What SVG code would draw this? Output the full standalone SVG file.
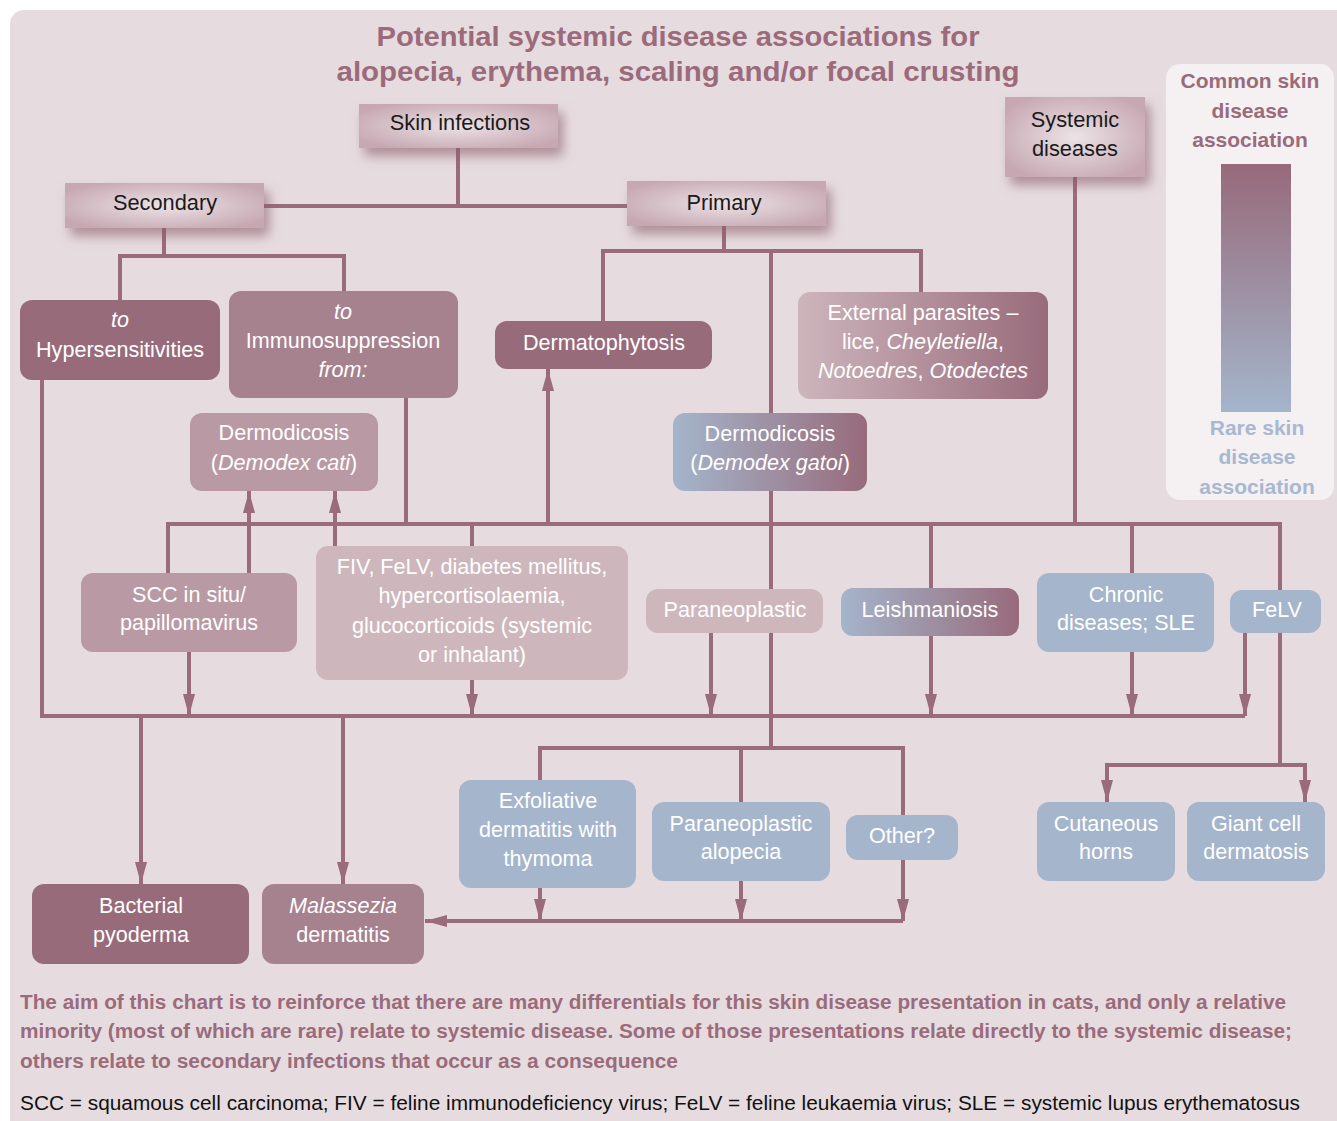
<svg xmlns="http://www.w3.org/2000/svg" width="1337" height="1121" viewBox="0 0 1337 1121">
<defs>
<style>
.bg{fill:#e6dcdf}
.c{fill:none;stroke:#9a6b7b;stroke-width:4}
.a{marker-end:url(#ah)}
.n1{fill:#986b7b}
.n2{fill:#a6818e}
.n3{fill:#b99aa4}
.n4{fill:#cdb7bd}
.nb{fill:#a5b5cb}
.hd{fill:url(#hg);filter:url(#sh)}
.t{font-family:"Liberation Sans",Arial,sans-serif;font-size:21.6px;fill:#fff;text-anchor:middle}
.th{font-family:"Liberation Sans",Arial,sans-serif;font-size:21.8px;fill:#1a1a1a;text-anchor:middle}
.i{font-style:italic}
.title{font-family:"Liberation Sans",Arial,sans-serif;font-size:28px;font-weight:bold;fill:#9b6b7c;text-anchor:middle}
.lg{font-family:"Liberation Sans",Arial,sans-serif;font-size:21px;font-weight:bold;text-anchor:middle}
.note{font-family:"Liberation Sans",Arial,sans-serif;font-size:19.5px;font-weight:bold;fill:#9b6b7c}
.foot{font-family:"Liberation Sans",Arial,sans-serif;font-size:19.5px;fill:#111}
</style>
<radialGradient id="hg" cx="0.5" cy="0.5" r="0.6">
<stop offset="0" stop-color="#ece3e6"/>
<stop offset="1" stop-color="#c6a7b2"/>
</radialGradient>
<linearGradient id="gExt" x1="0" y1="0" x2="1" y2="0">
<stop offset="0" stop-color="#cdb5bc"/>
<stop offset="1" stop-color="#986b7b"/>
</linearGradient>
<linearGradient id="gBM" x1="0" y1="0" x2="1" y2="0">
<stop offset="0" stop-color="#a4b5cb"/>
<stop offset="1" stop-color="#986b7b"/>
</linearGradient>
<linearGradient id="gLeg" x1="0" y1="0" x2="0" y2="1">
<stop offset="0" stop-color="#976a7a"/>
<stop offset="1" stop-color="#a4b5cb"/>
</linearGradient>
<filter id="sh" x="-20%" y="-30%" width="150%" height="180%">
<feDropShadow dx="5" dy="8" stdDeviation="6" flood-color="#8a5a6a" flood-opacity="0.6"/>
</filter>
<marker id="ah" viewBox="0 0 22 12" refX="22" refY="6" markerWidth="22" markerHeight="12" markerUnits="userSpaceOnUse" orient="auto">
<path d="M0,0 L22,6 L0,12 z" fill="#9a6b7b"/>
</marker>
</defs>

<rect x="0" y="0" width="1337" height="1121" fill="#ffffff"/>
<rect class="bg" x="10" y="10" width="1345" height="1125" rx="14"/>

<g id="title">
<text class="title" x="678" y="46" textLength="603" lengthAdjust="spacingAndGlyphs">Potential systemic disease associations for</text>
<text class="title" x="678" y="81" textLength="683" lengthAdjust="spacingAndGlyphs">alopecia, erythema, scaling and/or focal crusting</text>
</g>

<g id="legend">
<rect x="1166" y="64" width="168" height="436" rx="14" fill="#f5f0f2"/>
<text class="lg" x="1250" y="88" fill="#9a6b7b">Common skin</text>
<text class="lg" x="1250" y="118" fill="#9a6b7b">disease</text>
<text class="lg" x="1250" y="147" fill="#9a6b7b">association</text>
<rect x="1221" y="164" width="70" height="248" fill="url(#gLeg)"/>
<text class="lg" x="1257" y="435" fill="#a7b8d0">Rare skin</text>
<text class="lg" x="1257" y="464" fill="#a7b8d0">disease</text>
<text class="lg" x="1257" y="494" fill="#a7b8d0">association</text>
</g>

<g id="connectors">
<path class="c" d="M458,148 V206 M264,206 H627"/>
<path class="c" d="M164,228 V256 M120,300 V256 H344 V291"/>
<path class="c" d="M724,226 V251 M603,322 V251 H921 V292 M771,251 V413"/>
<path class="c" d="M1075,177 V524"/>
<path class="c" d="M168,573 V524 H1280 V765"/>
<path class="c" d="M406,398 V524 M472,524 V546 M771,491 V748 M931,524 V588 M1132,524 V573"/>
<path class="c a" d="M249,573 V491"/>
<path class="c a" d="M335,546 V491"/>
<path class="c a" d="M548,524 V369"/>
<path class="c" d="M42,380 V716 H1245"/>
<path class="c a" d="M189,652 V716"/>
<path class="c a" d="M472,680 V716"/>
<path class="c a" d="M711,633 V716"/>
<path class="c a" d="M931,636 V716"/>
<path class="c a" d="M1132,652 V716"/>
<path class="c a" d="M1245,633 V716"/>
<path class="c a" d="M141,716 V884"/>
<path class="c a" d="M343,716 V884"/>
<path class="c" d="M540,780 V748 H903 V815 M741,748 V802"/>
<path class="c a" d="M540,888 V921"/>
<path class="c a" d="M741,881 V921"/>
<path class="c a" d="M903,860 V921"/>
<path class="c a" d="M903,921 H425"/>
<path class="c a" d="M1280,765 H1107 V802"/>
<path class="c a" d="M1280,765 H1305 V802"/>
</g>

<g id="skin-infections">
<rect class="hd" x="359" y="104" width="199" height="44"/>
<text class="th" x="460" y="130">Skin infections</text>
</g>
<g id="secondary">
<rect class="hd" x="65" y="183" width="199" height="45"/>
<text class="th" x="165" y="210">Secondary</text>
</g>
<g id="primary">
<rect class="hd" x="627" y="181" width="199" height="45"/>
<text class="th" x="724" y="210">Primary</text>
</g>
<g id="systemic-diseases">
<rect class="hd" x="1005" y="97" width="140" height="80"/>
<text class="th" x="1075" y="127">Systemic</text>
<text class="th" x="1075" y="156">diseases</text>
</g>

<g id="hypersensitivities">
<rect class="n1" x="20" y="300" width="200" height="80" rx="12"/>
<text class="t i" x="120" y="327">to</text>
<text class="t" x="120" y="357">Hypersensitivities</text>
</g>
<g id="immunosuppression">
<rect class="n2" x="229" y="291" width="229" height="107" rx="12"/>
<text class="t i" x="343" y="319">to</text>
<text class="t" x="343" y="348">Immunosuppression</text>
<text class="t i" x="343" y="377">from:</text>
</g>
<g id="dermodicosis-cati">
<rect class="n3" x="190" y="413" width="188" height="78" rx="12"/>
<text class="t" x="284" y="440">Dermodicosis</text>
<text class="t" x="284" y="470">(<tspan class="i">Demodex cati</tspan>)</text>
</g>
<g id="dermatophytosis">
<rect class="n1" x="495" y="321" width="217" height="48" rx="12"/>
<text class="t" x="604" y="350">Dermatophytosis</text>
</g>
<g id="external-parasites">
<rect x="798" y="292" width="250" height="107" rx="12" fill="url(#gExt)"/>
<text class="t" x="923" y="320">External parasites –</text>
<text class="t" x="923" y="349">lice, <tspan class="i">Cheyletiella</tspan>,</text>
<text class="t" x="923" y="378"><tspan class="i">Notoedres</tspan>, <tspan class="i">Otodectes</tspan></text>
</g>
<g id="dermodicosis-gatoi">
<rect x="673" y="413" width="194" height="78" rx="12" fill="url(#gBM)"/>
<text class="t" x="770" y="441">Dermodicosis</text>
<text class="t" x="770" y="470">(<tspan class="i">Demodex gatoi</tspan>)</text>
</g>
<g id="scc">
<rect class="n3" x="81" y="573" width="216" height="79" rx="12"/>
<text class="t" x="189" y="602">SCC in situ/</text>
<text class="t" x="189" y="630">papillomavirus</text>
</g>
<g id="fiv">
<rect class="n4" x="316" y="546" width="312" height="134" rx="12"/>
<text class="t" x="472" y="574">FIV, FeLV, diabetes mellitus,</text>
<text class="t" x="472" y="603">hypercortisolaemia,</text>
<text class="t" x="472" y="633">glucocorticoids (systemic</text>
<text class="t" x="472" y="662">or inhalant)</text>
</g>
<g id="paraneoplastic">
<rect class="n4" x="646" y="589" width="177" height="44" rx="12"/>
<text class="t" x="735" y="617">Paraneoplastic</text>
</g>
<g id="leishmaniosis">
<rect x="841" y="588" width="178" height="48" rx="12" fill="url(#gBM)"/>
<text class="t" x="930" y="617">Leishmaniosis</text>
</g>
<g id="chronic">
<rect class="nb" x="1037" y="573" width="177" height="79" rx="12"/>
<text class="t" x="1126" y="602">Chronic</text>
<text class="t" x="1126" y="630">diseases; SLE</text>
</g>
<g id="felv">
<rect class="nb" x="1230" y="590" width="91" height="43" rx="12"/>
<text class="t" x="1277" y="617">FeLV</text>
</g>
<g id="exfoliative">
<rect class="nb" x="459" y="780" width="177" height="108" rx="12"/>
<text class="t" x="548" y="808">Exfoliative</text>
<text class="t" x="548" y="837">dermatitis with</text>
<text class="t" x="548" y="866">thymoma</text>
</g>
<g id="paraneoplastic-alopecia">
<rect class="nb" x="652" y="802" width="178" height="79" rx="12"/>
<text class="t" x="741" y="831">Paraneoplastic</text>
<text class="t" x="741" y="859">alopecia</text>
</g>
<g id="other">
<rect class="nb" x="846" y="815" width="112" height="45" rx="12"/>
<text class="t" x="902" y="843">Other?</text>
</g>
<g id="cutaneous-horns">
<rect class="nb" x="1037" y="802" width="138" height="79" rx="12"/>
<text class="t" x="1106" y="831">Cutaneous</text>
<text class="t" x="1106" y="859">horns</text>
</g>
<g id="giant-cell">
<rect class="nb" x="1187" y="802" width="138" height="79" rx="12"/>
<text class="t" x="1256" y="831">Giant cell</text>
<text class="t" x="1256" y="859">dermatosis</text>
</g>
<g id="bacterial-pyoderma">
<rect class="n1" x="32" y="884" width="217" height="80" rx="12"/>
<text class="t" x="141" y="913">Bacterial</text>
<text class="t" x="141" y="942">pyoderma</text>
</g>
<g id="malassezia">
<rect class="n2" x="262" y="884" width="162" height="80" rx="12"/>
<text class="t i" x="343" y="913">Malassezia</text>
<text class="t" x="343" y="942">dermatitis</text>
</g>

<g id="notes">
<text class="note" x="20" y="1009" textLength="1266" lengthAdjust="spacingAndGlyphs">The aim of this chart is to reinforce that there are many differentials for this skin disease presentation in cats, and only a relative</text>
<text class="note" x="20" y="1038" textLength="1272" lengthAdjust="spacingAndGlyphs">minority (most of which are rare) relate to systemic disease. Some of those presentations relate directly to the systemic disease;</text>
<text class="note" x="20" y="1068" textLength="658" lengthAdjust="spacingAndGlyphs">others relate to secondary infections that occur as a consequence</text>
<text class="foot" x="20" y="1110" textLength="1280" lengthAdjust="spacingAndGlyphs">SCC = squamous cell carcinoma; FIV = feline immunodeficiency virus; FeLV = feline leukaemia virus; SLE = systemic lupus erythematosus</text>
</g>
</svg>
